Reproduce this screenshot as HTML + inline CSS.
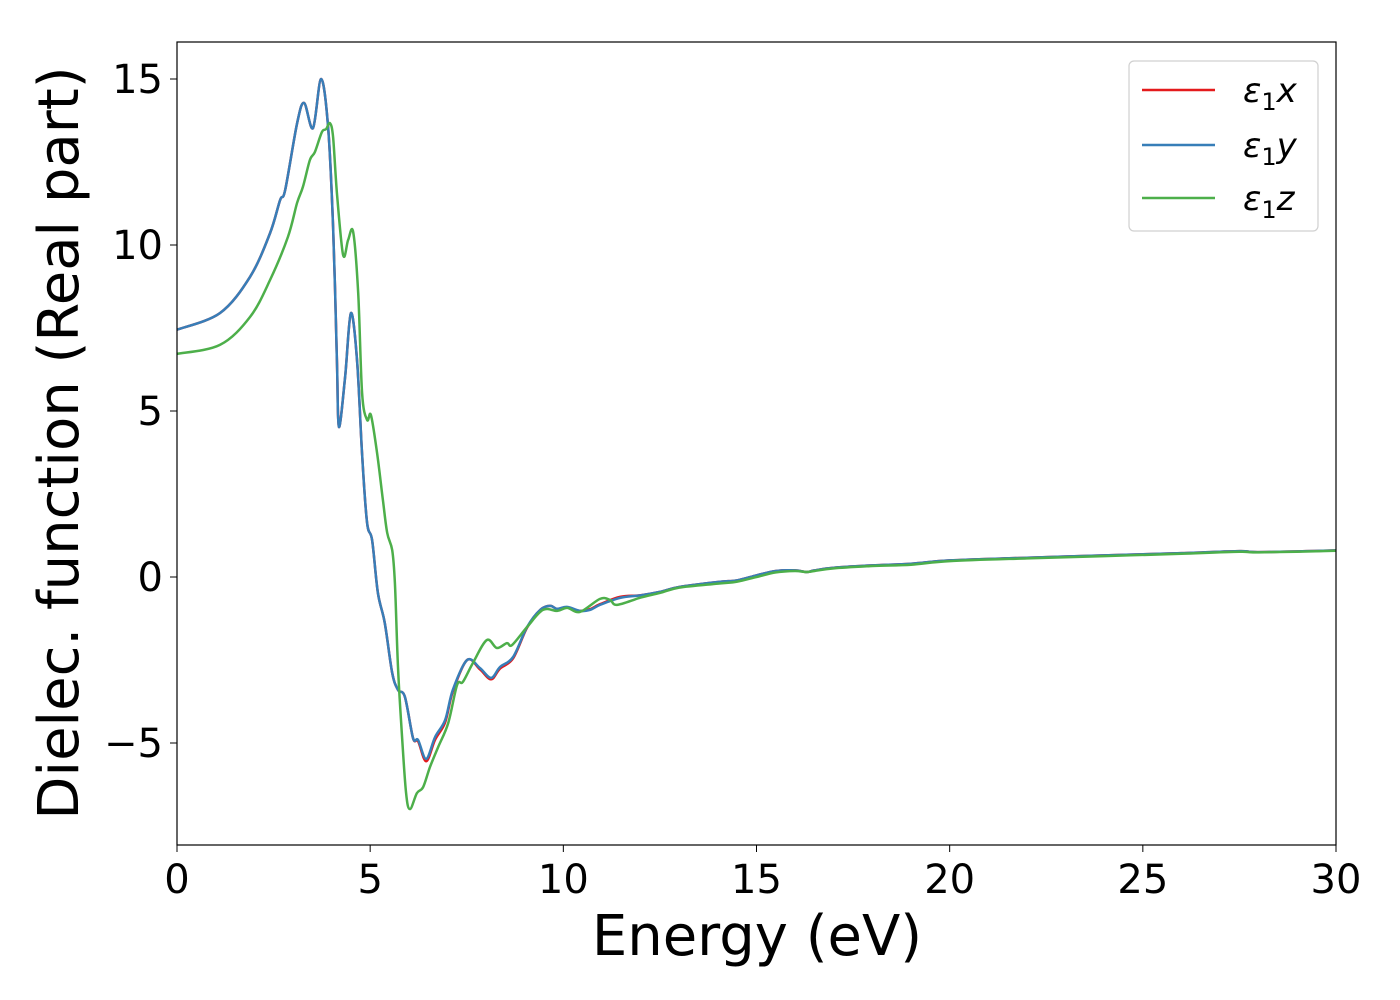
<!DOCTYPE html>
<html><head><meta charset="utf-8"><style>
body{margin:0;background:#fff;}
svg{display:block;font-family:"DejaVu Sans","Liberation Sans",sans-serif;}
</style></head><body>
<svg id="chart" width="1400" height="1000" viewBox="0 0 1400 1000" xmlns="http://www.w3.org/2000/svg">
<rect width="1400" height="1000" fill="#fff"/>
<g id="plot"></g>
<rect x="177" y="42" width="1159" height="803" fill="none" stroke="#000" stroke-width="1.2"/>
<g id="axes"></g>
<text x="757" y="955" font-size="56" text-anchor="middle">Energy (eV)</text>
<text x="0" y="0" font-size="56" text-anchor="middle" transform="translate(78,443) rotate(-90)">Dielec. function (Real part)</text>
<g>
<rect x="1129" y="61" width="189" height="170" rx="5" fill="#fff" stroke="#ccc" stroke-width="1.2" opacity="0.9"/>
<line x1="1142" y1="90" x2="1215" y2="90" stroke="#e41a1c" stroke-width="2.5"/>
<text x="1243" y="102" font-size="34" font-style="italic">ε<tspan font-size="24" dy="8" font-style="normal">1</tspan><tspan dy="-8">x</tspan></text>
<line x1="1142" y1="145" x2="1215" y2="145" stroke="#377eb8" stroke-width="2.5"/>
<text x="1243" y="157" font-size="34" font-style="italic">ε<tspan font-size="24" dy="8" font-style="normal">1</tspan><tspan dy="-8">y</tspan></text>
<line x1="1142" y1="198" x2="1215" y2="198" stroke="#4daf4a" stroke-width="2.5"/>
<text x="1243" y="210" font-size="34" font-style="italic">ε<tspan font-size="24" dy="8" font-style="normal">1</tspan><tspan dy="-8">z</tspan></text>
</g>
</svg>
<script>
const xyE=[0,1.11,1.89,2.41,2.67,2.80,3.11,3.29,3.52,3.73,3.91,4.04,4.14,4.19,4.35,4.50,4.66,4.79,4.92,5.05,5.20,5.38,5.57,5.72,5.90,6.11,6.24,6.45,6.68,6.94,7.14,7.51,7.84,8.13,8.36,8.70,9.06,9.40,9.66,9.84,10.10,10.43,10.69,10.95,11.47,12,12.5,13,14,14.5,15,15.5,16,16.3,16.5,17,18,19,20,22,24,26,27.5,28,30];
const yVals=[7.45,7.95,9.04,10.36,11.36,11.66,13.67,14.28,13.52,15.0,13.55,10.54,6.54,4.52,6.02,7.95,6.54,3.70,1.63,1.11,-0.48,-1.39,-2.89,-3.40,-3.61,-4.85,-4.91,-5.48,-4.82,-4.31,-3.40,-2.50,-2.74,-3.04,-2.71,-2.41,-1.51,-0.99,-0.87,-0.96,-0.90,-1.02,-0.99,-0.84,-0.63,-0.55,-0.45,-0.30,-0.15,-0.10,0.05,0.18,0.20,0.15,0.20,0.28,0.35,0.40,0.50,0.58,0.65,0.72,0.78,0.75,0.80];
const xVals=[7.45,7.95,9.04,10.36,11.36,11.66,13.67,14.28,13.52,15.0,13.55,10.54,6.54,4.52,6.02,7.95,6.54,3.70,1.63,1.11,-0.48,-1.39,-2.89,-3.40,-3.61,-4.85,-4.95,-5.55,-4.90,-4.38,-3.45,-2.50,-2.78,-3.08,-2.76,-2.45,-1.53,-0.99,-0.87,-0.96,-0.92,-1.02,-0.97,-0.82,-0.60,-0.55,-0.45,-0.30,-0.15,-0.10,0.05,0.18,0.20,0.15,0.20,0.28,0.35,0.40,0.50,0.58,0.65,0.72,0.78,0.75,0.80];
const zE=[0,1.11,1.89,2.41,2.87,3.11,3.26,3.44,3.57,3.75,3.86,3.96,4.04,4.14,4.30,4.43,4.56,4.69,4.79,4.92,5.02,5.18,5.33,5.44,5.57,5.64,5.72,5.82,5.93,6.03,6.21,6.37,6.55,6.76,7.02,7.25,7.40,7.66,8.02,8.28,8.54,8.67,9.06,9.47,9.84,10.10,10.43,10.95,11.21,11.39,12,12.5,13,14,14.5,15,15.5,16,16.3,16.5,17,18,19,20,22,24,26,27.5,28,30];
const zVals=[6.72,6.99,7.83,8.95,10.24,11.27,11.75,12.56,12.80,13.40,13.49,13.67,13.25,11.57,9.70,10.15,10.39,8.55,5.54,4.73,4.88,3.73,2.32,1.33,0.81,-0.18,-2.71,-4.70,-6.51,-6.99,-6.51,-6.33,-5.72,-5.12,-4.40,-3.25,-3.16,-2.59,-1.90,-2.14,-1.99,-2.05,-1.51,-0.99,-1.02,-0.93,-1.05,-0.66,-0.69,-0.84,-0.62,-0.48,-0.32,-0.20,-0.14,0.0,0.14,0.18,0.15,0.18,0.26,0.33,0.37,0.48,0.56,0.63,0.70,0.76,0.74,0.79];
const xTicks=[0,5,10,15,20,25,30];
const yTicks=[-5,0,5,10,15];
const yTickLabels=["\u22125","0","5","10","15"];
const X=e=>177+e*(1159/30);
const Y=v=>577-v*33.2;
const NS="http://www.w3.org/2000/svg";
function pathD(es,vs){
  const p=es.map((e,i)=>[X(e),Y(vs[i])]);
  let d="M"+p[0][0].toFixed(1)+","+p[0][1].toFixed(1);
  for(let i=0;i<p.length-1;i++){
    const p0=p[Math.max(0,i-1)],p1=p[i],p2=p[i+1],p3=p[Math.min(p.length-1,i+2)];
    const c1=[p1[0]+(p2[0]-p0[0])/6,p1[1]+(p2[1]-p0[1])/6];
    const c2=[p2[0]-(p3[0]-p1[0])/6,p2[1]-(p3[1]-p1[1])/6];
    d+=" C"+c1[0].toFixed(1)+","+c1[1].toFixed(1)+" "+c2[0].toFixed(1)+","+c2[1].toFixed(1)+" "+p2[0].toFixed(1)+","+p2[1].toFixed(1);
  }
  return d;
}
const plot=document.getElementById('plot');
const series=[["series-eps1-x",xyE,xVals,"#e41a1c"],["series-eps1-y",xyE,yVals,"#377eb8"],["series-eps1-z",zE,zVals,"#4daf4a"]];
series.forEach(s=>{
  const el=document.createElementNS(NS,'path');
  
  
  el.setAttribute('d',pathD(s[1],s[2]));
  el.setAttribute('fill','none');el.setAttribute('stroke',s[3]);el.setAttribute('stroke-width','2.5');
  plot.appendChild(el);
});
const axes=document.getElementById('axes');
xTicks.forEach(t=>{
  const l=document.createElementNS(NS,'line');
  
  
  l.setAttribute('x1',X(t));l.setAttribute('x2',X(t));l.setAttribute('y1',845);l.setAttribute('y2',852);l.setAttribute('stroke','#000');
  axes.appendChild(l);
  const tx=document.createElementNS(NS,'text');
  
  
  tx.setAttribute('x',X(t));tx.setAttribute('y',893);tx.setAttribute('font-size','40');tx.setAttribute('text-anchor','middle');
  tx.textContent=String(t);axes.appendChild(tx);
});
yTicks.forEach((t,i)=>{
  const l=document.createElementNS(NS,'line');
  
  
  l.setAttribute('x1',170);l.setAttribute('x2',177);l.setAttribute('y1',Y(t));l.setAttribute('y2',Y(t));l.setAttribute('stroke','#000');
  axes.appendChild(l);
  const tx=document.createElementNS(NS,'text');
  
  
  tx.setAttribute('x',163);tx.setAttribute('y',Y(t)+14);tx.setAttribute('font-size','40');tx.setAttribute('text-anchor','end');
  tx.textContent=yTickLabels[i];axes.appendChild(tx);
});
</script>
</body></html>
